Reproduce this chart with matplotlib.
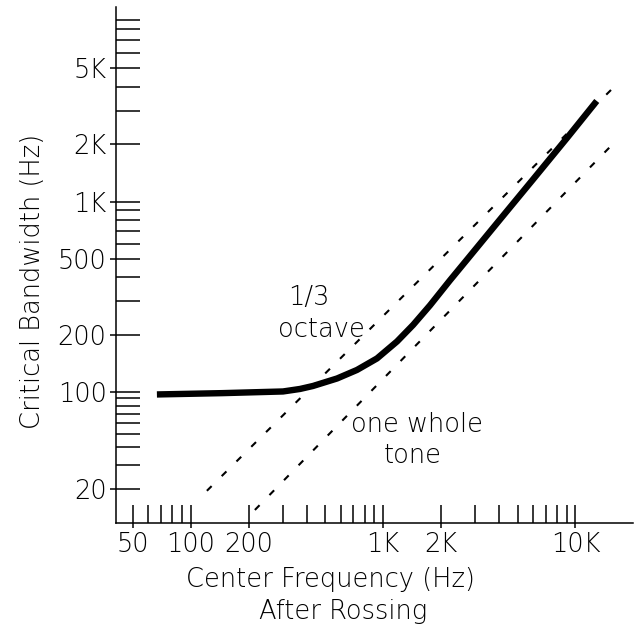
import numpy as np
import matplotlib
matplotlib.use("Agg")
import matplotlib.pyplot as plt
from matplotlib.ticker import FixedLocator, FixedFormatter

# ---------------- data ----------------
# critical bandwidth curve (after Rossing)
freq_hz = [66.5, 145, 301, 369, 431, 575, 730, 928, 1180, 1430, 1750, 2220,
           2730, 4050, 6010, 9030, 12900]
bandwidth_hz = [96.1, 98.2, 100.7, 103.8, 107.6, 117.8, 130.6, 150.1, 184.3, 225, 285, 385,
                496, 805, 1305, 2154, 3370]

# reference lines as drawn on the chart
third_octave_f = [121, 15300]
third_octave_bw = [19.5, 3850]
whole_tone_f = [215, 16600]
whole_tone_bw = [14.2, 2130]

# axis ticks
x_major = [50, 100, 200, 1000, 2000, 10000]
x_major_labels = ["50", "100", "200", "1K", "2K", "10K"]
x_minor = [60, 70, 80, 90, 300, 400, 500, 600, 700, 800, 900,
           3000, 4000, 5000, 6000, 7000, 8000, 9000]
y_major = [20, 100, 200, 500, 1000, 2000, 5000]
y_major_labels = ["20", "100", "200", "500", "1K", "2K", "5K"]
y_minor = [30, 40, 50, 60, 70, 80, 90, 300, 400, 600, 700, 800, 900,
           3000, 4000, 6000, 7000, 8000, 9000]

# ---------------- y scale: log, compressed below 100 Hz as on the original ----------------
C = 0.73


def fwd(b):
    b = np.asarray(b, dtype=float)
    L = np.log10(np.clip(b, 1e-12, None)) - 2.0
    return np.where(L >= 0, L, L * C)


def inv(t):
    t = np.asarray(t, dtype=float)
    return np.where(t >= 0, 10.0 ** (t + 2.0), 10.0 ** (t / C + 2.0))


plt.rcParams["font.family"] = ["DejaVu Sans"]
plt.rcParams["lines.scale_dashes"] = False
FS = 18.5
W = 200

fig = plt.figure(figsize=(6.4, 6.27), dpi=100)
ax = fig.add_axes([115.5 / 640, 104.3 / 627, 517.5 / 640, 515.7 / 627])
ax.set_xscale("log")
ax.set_yscale("function", functions=(fwd, inv))
ax.set_xlim(40.5, 19910)
ax.set_ylim(11.5, 10490)

for s in ("top", "right"):
    ax.spines[s].set_visible(False)
for s in ("left", "bottom"):
    ax.spines[s].set_linewidth(1.1)

ax.xaxis.remove_overlapping_locs = False
ax.yaxis.remove_overlapping_locs = False
ax.xaxis.set_major_locator(FixedLocator(x_major))
ax.xaxis.set_major_formatter(FixedFormatter(x_major_labels))
ax.xaxis.set_minor_locator(FixedLocator(x_major + x_minor))
ax.yaxis.set_major_locator(FixedLocator(y_major))
ax.yaxis.set_major_formatter(FixedFormatter(y_major_labels))
ax.yaxis.set_minor_locator(FixedLocator(y_major + y_minor))
ax.xaxis.set_minor_formatter(FixedFormatter([""] * 30))
ax.yaxis.set_minor_formatter(FixedFormatter([""] * 30))

ax.tick_params(axis="x", which="major", direction="out", length=3.8, width=1.1,
               pad=3, labelsize=FS)
ax.tick_params(axis="x", which="minor", direction="in", length=13, width=1.1)
ax.tick_params(axis="y", which="major", direction="out", length=4, width=1.1,
               pad=2.4, labelsize=FS)
ax.tick_params(axis="y", which="minor", direction="in", length=17.3, width=1.1)
for lab in ax.get_xticklabels() + ax.get_yticklabels():
    lab.set_fontweight(W)

ax.plot(freq_hz, bandwidth_hz, color="black", lw=4.6,
        solid_capstyle="butt", solid_joinstyle="round")
ax.plot(third_octave_f, third_octave_bw, color="black", lw=1.5, dashes=(4.8, 10.2))
ax.plot(whole_tone_f, whole_tone_bw, color="black", lw=1.5, dashes=(4.8, 10.2))

ax.text(0.374, 0.4221, "1/3", transform=ax.transAxes, ha="center", va="baseline",
        fontsize=FS, fontweight=W)
ax.text(0.3971, 0.3595, "octave", transform=ax.transAxes, ha="center", va="baseline",
        fontsize=FS, fontweight=W)
ax.text(0.582, 0.1765, "one whole", transform=ax.transAxes, ha="center", va="baseline",
        fontsize=FS, fontweight=W)
ax.text(0.5749, 0.1158, "tone", transform=ax.transAxes, ha="center", va="baseline",
        fontsize=FS, fontweight=W)

fig.text(331 / 640, 0.063, "Center Frequency (Hz)", ha="center", va="baseline",
         fontsize=FS, fontweight=W)
fig.text(343 / 640, 0.0128, "After Rossing", ha="center", va="baseline",
         fontsize=FS, fontweight=W)
fig.text(32.5 / 640, 0.5518, "Critical Bandwidth (Hz)", rotation=90, ha="center",
         va="center", fontsize=FS, fontweight=W)

fig.savefig("out.png", dpi=100, facecolor="white")
